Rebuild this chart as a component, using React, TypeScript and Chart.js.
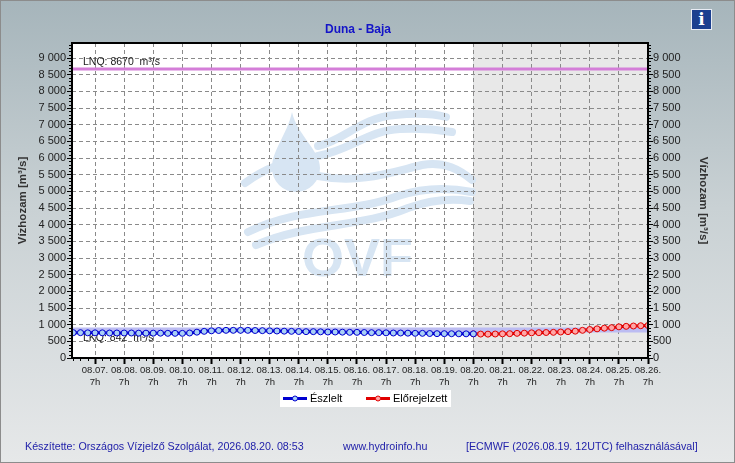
import React, { useEffect, useRef } from 'react';
import { Chart, registerables } from 'chart.js';

Chart.register(...registerables);

// --- data ---
const dayLabels = [
  '08.07.', '08.08.', '08.09.', '08.10.', '08.11.', '08.12.', '08.13.', '08.14.', '08.15.', '08.16.',
  '08.17.', '08.18.', '08.19.', '08.20.', '08.21.', '08.22.', '08.23.', '08.24.', '08.25.', '08.26.',
];
const hourLabel = '7h';
const yTicks = [0, 500, 1000, 1500, 2000, 2500, 3000, 3500, 4000, 4500, 5000, 5500, 6000, 6500, 7000, 7500, 8000, 8500, 9000];

// hours relative to 08.07. 7h, one value every 6 hours
const stepHours = 6;
const observedStart = -18;
const observedValues = [
  760, 760, 755,
  755, 755, 750, 750,
  750, 750, 745, 745,
  745, 745, 740, 740,
  740, 750, 775, 800,
  815, 825, 830, 830,
  830, 830, 825, 820,
  815, 810, 805, 800,
  795, 790, 790, 785,
  780, 780, 775, 770,
  770, 765, 760, 760,
  755, 750, 750, 745,
  740, 740, 735, 730,
  730, 728, 726, 725,
  725,
];
const forecastStart = 312;
const forecastValues = [
  725, 718, 716, 720,
  725, 730, 740, 745,
  755, 760, 765, 770,
  780, 790, 805, 830,
  855, 875, 895, 910,
  935, 950, 960, 968,
  975,
];
const thresholdNames = ['LNQ', 'LKQ'];
const thresholdValues = [8670, 842];

const FONT = "'Liberation Sans', Arial, sans-serif";

const fmt = (v: number) => String(v).replace(/\B(?=(\d{3})+(?!\d))/g, ' ');
const toPoints = (start: number, values: number[]) => values.map((y, i) => ({ x: start + i * stepHours, y }));

function drawWatermark(ctx: CanvasRenderingContext2D) {
  ctx.fillStyle = '#d7e5f3';
  ctx.strokeStyle = '#d7e5f3';
  // droplet
  ctx.beginPath();
  ctx.moveTo(292, 112);
  ctx.bezierCurveTo(297, 135, 320, 150, 320, 168);
  ctx.arc(296, 168, 24, 0, Math.PI);
  ctx.bezierCurveTo(272, 150, 287, 135, 292, 112);
  ctx.fill();
  // waves
  ctx.lineWidth = 8;
  ctx.lineCap = 'round';
  const waves: number[][] = [
    [318, 146, 345, 140, 360, 118, 395, 115, 415, 113, 435, 114, 446, 117],
    [318, 156, 350, 150, 370, 130, 400, 129, 420, 128, 440, 130, 452, 132],
    [318, 176, 360, 184, 392, 172, 422, 165, 445, 161, 460, 170, 472, 180],
    [248, 232, 300, 206, 350, 214, 398, 196, 428, 186, 452, 188, 472, 192],
    [256, 245, 310, 222, 360, 228, 408, 208, 436, 198, 456, 199, 470, 201],
  ];
  waves.forEach((w) => {
    ctx.beginPath();
    ctx.moveTo(w[0], w[1]);
    ctx.bezierCurveTo(w[2], w[3], w[4], w[5], w[6], w[7]);
    ctx.bezierCurveTo(w[8], w[9], w[10], w[11], w[12], w[13]);
    ctx.stroke();
  });
  ctx.beginPath();
  ctx.moveTo(245, 183);
  ctx.quadraticCurveTo(260, 172, 276, 166);
  ctx.stroke();
  ctx.font = `bold 54px ${FONT}`;
  ctx.textBaseline = 'alphabetic';
  ctx.fillText('OVF', 302, 276);
}

const decorPlugin = {
  id: 'decor',
  beforeDraw(chart: any) {
    const { ctx, chartArea: a, scales } = chart;
    const split = scales.x.getPixelForValue(forecastStart);
    ctx.save();
    ctx.fillStyle = '#ffffff';
    ctx.fillRect(a.left, a.top, split - a.left, a.bottom - a.top);
    ctx.fillStyle = '#e8e8e8';
    ctx.fillRect(split, a.top, a.right - split, a.bottom - a.top);
    ctx.beginPath();
    ctx.rect(a.left, a.top, a.right - a.left, a.bottom - a.top);
    ctx.clip();
    drawWatermark(ctx);
    ctx.restore();
  },
  beforeDatasetsDraw(chart: any) {
    const { ctx, chartArea: a, scales } = chart;
    ctx.save();
    ctx.font = `10.5px ${FONT}`;
    ctx.fillStyle = '#222';
    thresholdValues.forEach((v, i) => {
      const py = scales.y.getPixelForValue(v);
      ctx.beginPath();
      ctx.moveTo(a.left, py);
      ctx.lineTo(a.right, py);
      ctx.lineWidth = i === 0 ? 3 : 5;
      ctx.strokeStyle = i === 0 ? '#d47ed8' : '#bcbcf2';
      ctx.stroke();
      const label = `${thresholdNames[i]}: ${v}  m³/s`;
      ctx.textBaseline = i === 0 ? 'bottom' : 'top';
      ctx.fillText(label, a.left + 11, i === 0 ? py - 2 : py + 3);
    });
    ctx.restore();
  },
  afterDraw(chart: any) {
    const { ctx, chartArea: a, scales } = chart;
    ctx.save();
    // minor ticks
    ctx.strokeStyle = '#000';
    ctx.lineWidth = 1;
    ctx.beginPath();
    for (let t = Math.ceil(scales.x.min / stepHours) * stepHours; t <= scales.x.max; t += stepHours) {
      if (t % 24 === 0) continue;
      const px = Math.round(scales.x.getPixelForValue(t)) + 0.5;
      ctx.moveTo(px, a.bottom);
      ctx.lineTo(px, a.bottom + 3);
    }
    for (let v = 100; v < scales.y.max; v += 100) {
      if (v % 500 === 0) continue;
      const py = Math.round(scales.y.getPixelForValue(v)) + 0.5;
      ctx.moveTo(a.left - 3, py);
      ctx.lineTo(a.left, py);
      ctx.moveTo(a.right, py);
      ctx.lineTo(a.right + 3, py);
    }
    ctx.stroke();
    // frame
    ctx.lineWidth = 2;
    ctx.strokeRect(a.left, a.top, a.right - a.left, a.bottom - a.top);
    // title
    ctx.font = `bold 12px ${FONT}`;
    ctx.fillStyle = '#1414c8';
    ctx.textAlign = 'center';
    ctx.textBaseline = 'middle';
    ctx.fillText('Duna - Baja', (a.left + a.right) / 2 - 2, 30);
    // legend
    const lx = 280;
    const ly = 390;
    ctx.fillStyle = '#ffffff';
    ctx.fillRect(lx, ly, 171, 17);
    ctx.textAlign = 'left';
    ctx.font = `11px ${FONT}`;
    chart.data.datasets.forEach((ds: any, i: number) => {
      const sx = lx + 3 + i * 83;
      const cy = ly + 8.5;
      ctx.beginPath();
      ctx.moveTo(sx, cy);
      ctx.lineTo(sx + 24, cy);
      ctx.lineWidth = 3;
      ctx.strokeStyle = ds.borderColor;
      ctx.stroke();
      ctx.beginPath();
      ctx.arc(sx + 12, cy, 2.5, 0, Math.PI * 2);
      ctx.fillStyle = ds.pointBackgroundColor;
      ctx.fill();
      ctx.lineWidth = 1;
      ctx.stroke();
      ctx.fillStyle = '#000';
      ctx.fillText(ds.label, sx + 27, cy + 0.5);
    });
    ctx.restore();
  },
};

const yScale = (position: 'left' | 'right', width: number) => ({
  type: 'linear' as const,
  position,
  min: 0,
  max: 9450,
  afterBuildTicks: (s: any) => {
    s.ticks = yTicks.map((value) => ({ value }));
  },
  afterFit: (s: any) => {
    s.width = width;
  },
  ticks: {
    color: '#222',
    padding: position === 'left' ? 1 : 0,
    font: { size: 11, family: FONT },
    callback: (v: any) => fmt(Number(v)),
  },
  grid: {
    drawOnChartArea: position === 'left',
    color: '#8a8a8a',
    tickColor: '#000',
    tickLength: 5,
    tickWidth: 1,
  },
  border: { display: false, dash: [4, 3] },
  title: {
    display: true,
    text: 'Vízhozam [m³/s]',
    color: '#333',
    padding: { top: 4, bottom: 0 },
    font: { size: 11.5, weight: 'bold' as const, family: FONT },
  },
});

export default function App() {
  const canvasRef = useRef<HTMLCanvasElement>(null);

  useEffect(() => {
    if (!canvasRef.current) return;
    const chart = new Chart(canvasRef.current, {
      type: 'line',
      data: {
        datasets: [
          {
            label: 'Észlelt',
            data: toPoints(observedStart, observedValues),
            borderColor: '#0000d0',
            borderWidth: 3,
            pointRadius: 3,
            pointBorderWidth: 1,
            pointBackgroundColor: '#a9d0f5',
            pointBorderColor: '#0000d0',
          },
          {
            label: 'Előrejelzett',
            data: toPoints(forecastStart, forecastValues),
            borderColor: '#e00000',
            borderWidth: 3,
            pointRadius: 3,
            pointBorderWidth: 1,
            pointBackgroundColor: '#ffa6a6',
            pointBorderColor: '#e00000',
          },
        ],
      },
      options: {
        animation: false,
        responsive: true,
        maintainAspectRatio: false,
        layout: { padding: { left: 12, right: 21, top: 43, bottom: 70 } },
        plugins: {
          legend: { display: false },
          title: { display: false },
          tooltip: { enabled: false },
        },
        scales: {
          x: {
            type: 'linear',
            min: -19,
            max: 456,
            afterBuildTicks: (s: any) => {
              s.ticks = dayLabels.map((_, i) => ({ value: i * 24 }));
            },
            afterFit: (s: any) => {
              s.height = 35;
            },
            ticks: {
              autoSkip: false,
              maxRotation: 0,
              padding: 0,
              color: '#222',
              font: { size: 9.5, family: FONT, lineHeight: 1.3 },
              callback: (_v: any, i: number) => [dayLabels[i], hourLabel],
            },
            grid: { color: '#8a8a8a', tickColor: '#000', tickLength: 6, tickWidth: 2 },
            border: { display: false, dash: [4, 3] },
          },
          y: yScale('left', 60),
          y2: yScale('right', 66),
        },
      },
      plugins: [decorPlugin],
    });
    return () => chart.destroy();
  }, []);

  const footer: React.CSSProperties = {
    position: 'absolute',
    top: 439,
    fontFamily: FONT,
    fontSize: 10.7,
    color: '#2222aa',
    whiteSpace: 'nowrap',
  };

  return (
    <div
      style={{
        position: 'fixed',
        left: 0,
        top: 0,
        width: 735,
        height: 463,
        boxSizing: 'border-box',
        border: '1px solid #8c8c8c',
        background: 'linear-gradient(#a6b5bb 0%, #c9d1d4 45%, #e6e8e9 100%)',
      }}
    >
      <div style={{ position: 'absolute', left: -1, top: -1, width: 735, height: 463 }}>
        <canvas ref={canvasRef} />
      </div>
      <div
        style={{
          position: 'absolute',
          left: 690,
          top: 8,
          width: 19,
          height: 19,
          background: '#1b3f8f',
          border: '1px solid #e8ecf4',
          color: '#fff',
          fontFamily: "'DejaVu Serif', serif",
          fontWeight: 'bold',
          fontSize: 17,
          lineHeight: '19px',
          textAlign: 'center',
        }}
      >
        i
      </div>
      <div style={{ ...footer, left: 24 }}>Készítette: Országos Vízjelző Szolgálat, 2026.08.20. 08:53</div>
      <div style={{ ...footer, left: 342 }}>www.hydroinfo.hu</div>
      <div style={{ ...footer, left: 465 }}>[ECMWF (2026.08.19. 12UTC) felhasználásával]</div>
    </div>
  );
}
